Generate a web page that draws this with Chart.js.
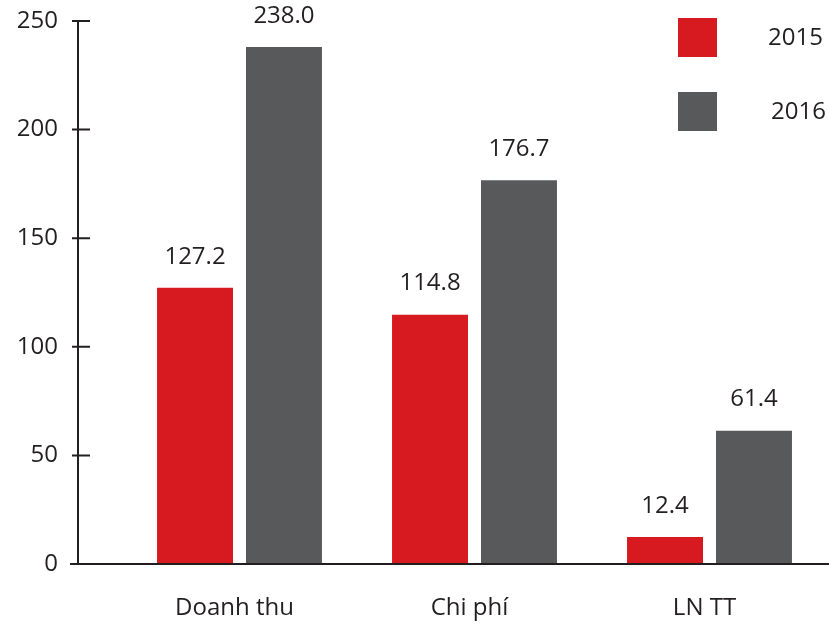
<!DOCTYPE html>
<html>
<head>
<meta charset="utf-8">
<script src="https://cdn.jsdelivr.net/npm/chart.js@4.4.1/dist/chart.umd.min.js"></script>
<style>
    html, body { margin: 0; padding: 0; background: #fff; }
    #wrap { width: 829px; height: 623px; position: relative; }
</style>
</head>
<body>
<div id="wrap"><canvas id="revenueChart"></canvas></div>
<script>
// data
const categories = ['Doanh thu', 'Chi phí', 'LN TT'];
const values2015 = [127.2, 114.8, 12.4];
const values2016 = [238.0, 176.7, 61.4];
const seriesNames = ['2015', '2016'];
const yTicks = [0, 50, 100, 150, 200, 250];

const RED = '#d71920';
const GREY = '#58595b';
const INK = '#231f20';
const FONT = "'Open Sans', 'Noto Sans', sans-serif";

//! ============ axis lines drawn a bit off the plot area ============
const axisLines = {
    id: 'axisLines',
    afterDraw(chart) {
        const ctx = chart.ctx;
        const y = chart.scales.y;
        const area = chart.chartArea;
        const ax = area.left - 44;
        ctx.save();
        ctx.strokeStyle = INK;
        ctx.lineWidth = 2;
        ctx.beginPath();
        ctx.moveTo(ax, y.getPixelForValue(yTicks[yTicks.length - 1]));
        ctx.lineTo(ax, y.getPixelForValue(0));
        yTicks.forEach(t => {
            const py = y.getPixelForValue(t);
            ctx.moveTo(ax - 6, py);
            ctx.lineTo(ax + 12, py);
        });
        // base line
        const by = y.getPixelForValue(0);
        ctx.moveTo(ax - 8, by);
        ctx.lineTo(chart.width, by);
        ctx.stroke();
        ctx.restore();
    }
};

//! ================= value labels over the bars =====================
const valueLabels = {
    id: 'valueLabels',
    afterDraw(chart) {
        const ctx = chart.ctx;
        ctx.save();
        ctx.font = '24px ' + FONT;
        ctx.fillStyle = INK;
        ctx.textAlign = 'center';
        ctx.textBaseline = 'middle';
        chart.data.datasets.forEach((ds, i) => {
            chart.getDatasetMeta(i).data.forEach((bar, j) => {
                ctx.fillText(ds.data[j].toFixed(1), bar.x, bar.y - 31);
            });
        });
        ctx.restore();
    }
};

//! ======================= legend (top right) =======================
const boxLegend = {
    id: 'boxLegend',
    afterDraw(chart) {
        const ctx = chart.ctx;
        ctx.save();
        ctx.font = '24px ' + FONT;
        ctx.textBaseline = 'middle';
        ctx.textAlign = 'left';
        chart.data.datasets.forEach((ds, i) => {
            const top = 18 + i * 74;
            ctx.fillStyle = ds.backgroundColor;
            ctx.fillRect(678, top, 39, 39);
            ctx.fillStyle = INK;
            ctx.fillText(ds.label, 768 + i * 3, top + 20);
        });
        ctx.restore();
    }
};

//! =========================== chart ================================
const ctx = document.getElementById('revenueChart').getContext('2d');
new Chart(ctx, {
    type: 'bar',
    data: {
        labels: categories,
        datasets: [
            { label: seriesNames[0], data: values2015, backgroundColor: RED },
            { label: seriesNames[1], data: values2016, backgroundColor: GREY }
        ]
    },
    options: {
        responsive: true,
        maintainAspectRatio: false,
        animation: false,
        categoryPercentage: 0.757,
        barPercentage: 0.854,
        layout: { padding: { top: 21, right: 2, left: 0, bottom: 0 } },
        plugins: {
            legend: { display: false },
            tooltip: { enabled: false }
        },
        scales: {
            x: {
                grid: { display: false, drawTicks: false },
                border: { display: false },
                ticks: { color: INK, font: { family: FONT, size: 24 }, padding: 30, labelOffset: -5 },
                afterFit(scale) { scale.height = 59; }
            },
            y: {
                min: 0,
                max: 250,
                afterBuildTicks(scale) { scale.ticks = yTicks.map(v => ({ value: v })); },
                grid: { display: false, drawTicks: false },
                border: { display: false },
                ticks: { color: INK, font: { family: FONT, size: 24 }, padding: 64 },
                afterFit(scale) {
                    scale.width = 122;
                    scale.paddingTop = 0;
                    scale.paddingBottom = 0;
                }
            }
        }
    },
    plugins: [axisLines, valueLabels, boxLegend]
});
</script>
</body>
</html>
